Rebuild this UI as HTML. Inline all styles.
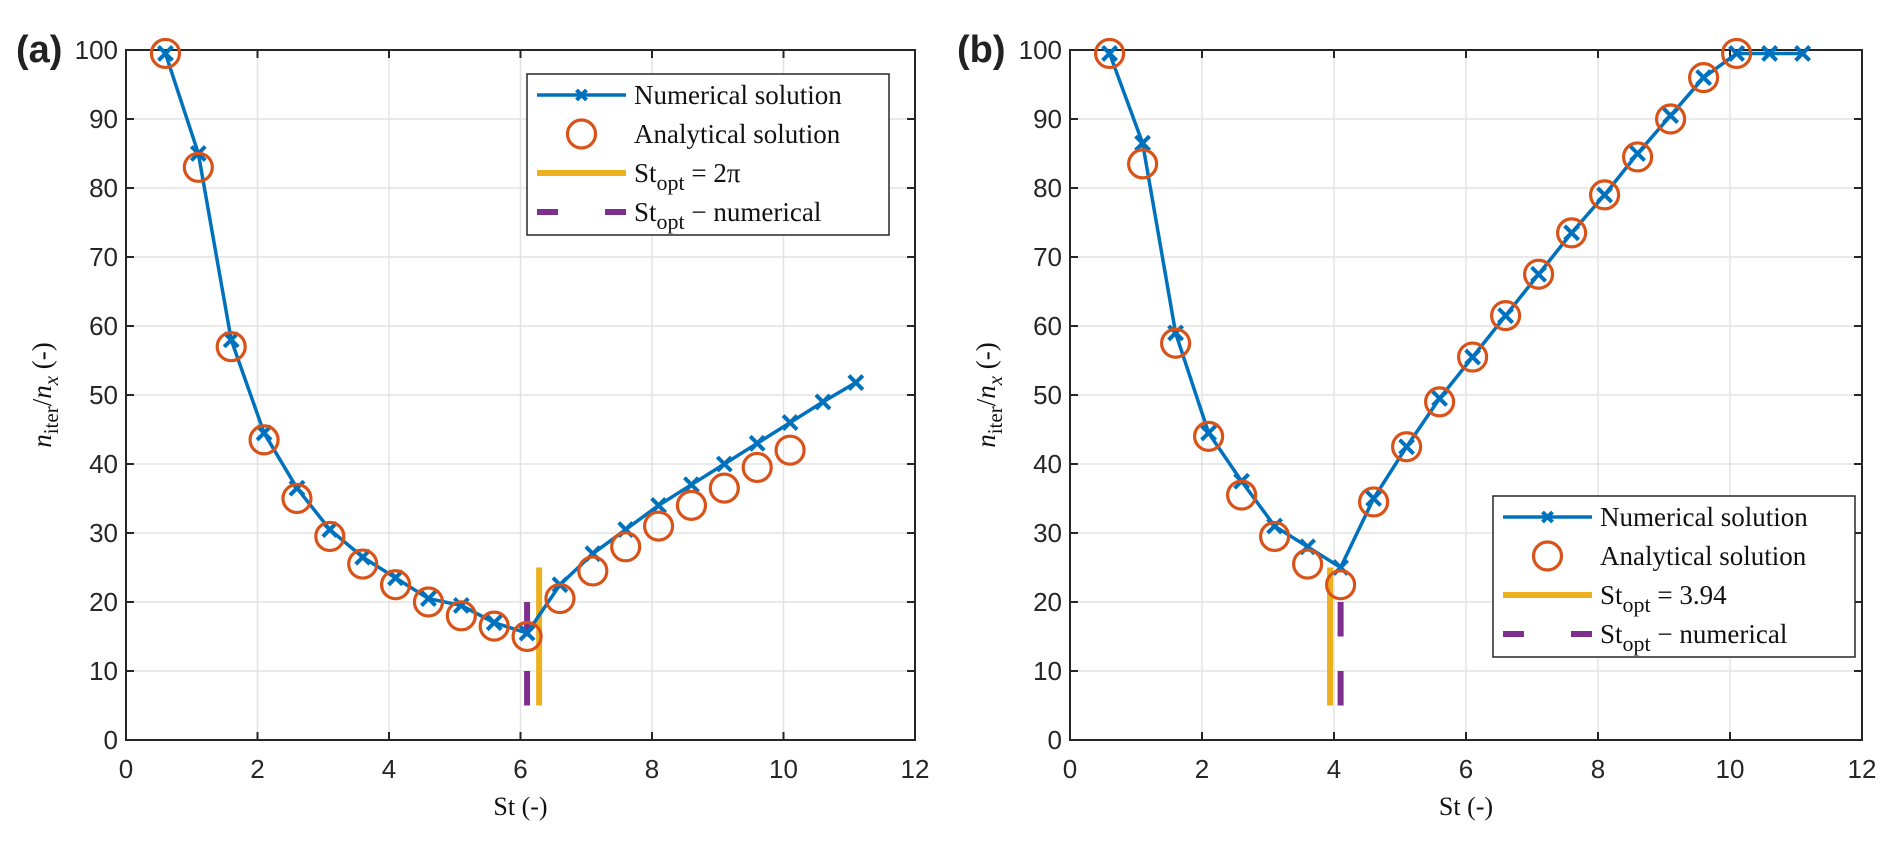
<!DOCTYPE html>
<html><head><meta charset="utf-8"><style>
body{margin:0;background:#fff;}
svg{display:block;}
.tick{font-family:"Liberation Sans",sans-serif;font-size:26px;fill:#262626;}
.ser{font-family:"Liberation Serif",serif;fill:#111;}
</style></head><body>
<svg id="chart" width="1892" height="844" viewBox="0 0 1892 844"></svg>
<script>
const stA = [0.6,1.1,1.6,2.1,2.6,3.1,3.6,4.1,4.6,5.1,5.6,6.1,6.6,7.1,7.6,8.1,8.6,9.1,9.6,10.1,10.6,11.1];
const numA = [99.5,85,58,44.5,36.5,30.5,26.5,23.5,20.5,19.5,17,15.5,22.5,27,30.5,34,37,40,43,46,49,51.8];
const stAnA = [0.6,1.1,1.6,2.1,2.6,3.1,3.6,4.1,4.6,5.1,5.6,6.1,6.6,7.1,7.6,8.1,8.6,9.1,9.6,10.1];
const anaA = [99.5,83,57,43.5,35,29.5,25.5,22.5,20,18,16.5,15,20.5,24.5,28,31,34,36.5,39.5,42];
const optA = [6.2832, 6.1];
const numB = [99.5,86.5,59,44.5,37.5,31,28,25,35,42.5,49.5,55.5,61.5,67.5,73.5,79,85,90.5,96,99.5,99.5,99.5];
const anaB = [99.5,83.5,57.5,44,35.5,29.5,25.5,22.5,34.5,42.5,49,55.5,61.5,67.5,73.5,79,84.5,90,96,99.5];
const optB = [3.94, 4.1];
const xTicks = [0,2,4,6,8,10,12];
const yTicks = [0,10,20,30,40,50,60,70,80,90,100];
const optRange = [5,25];

const NS="http://www.w3.org/2000/svg";
const svg=document.getElementById('chart');
function mk(tag,attrs,parent){const e=document.createElementNS(NS,tag);for(const k in attrs)e.setAttribute(k,attrs[k]);(parent||svg).appendChild(e);return e;}

function panel(p){
  const g=mk('g',{});
  
  
  const X=v=>p.x0+v/12*(p.x1-p.x0);
  const Y=v=>740-v/100*690;
  xTicks.forEach(t=>{const l=mk('line',{x1:X(t),x2:X(t),y1:50,y2:740,stroke:'#e3e3e3','stroke-width':1.5},g);});
  yTicks.forEach(t=>{const l=mk('line',{x1:p.x0,x2:p.x1,y1:Y(t),y2:Y(t),stroke:'#e3e3e3','stroke-width':1.5},g);});
  const box=mk('rect',{x:p.x0,y:50,width:p.x1-p.x0,height:690,fill:'none',stroke:'#262626','stroke-width':2},g);
  
  xTicks.forEach(t=>{
    mk('line',{x1:X(t),x2:X(t),y1:740,y2:732,stroke:'#262626','stroke-width':2},g);
    mk('line',{x1:X(t),x2:X(t),y1:50,y2:58,stroke:'#262626','stroke-width':2},g);
    const tx=mk('text',{x:X(t),y:778,'text-anchor':'middle',class:'tick'},g);tx.textContent=t;
    
  });
  yTicks.forEach(t=>{
    mk('line',{x1:p.x0,x2:p.x0+8,y1:Y(t),y2:Y(t),stroke:'#262626','stroke-width':2},g);
    mk('line',{x1:p.x1,x2:p.x1-8,y1:Y(t),y2:Y(t),stroke:'#262626','stroke-width':2},g);
    const tx=mk('text',{x:p.x0-8,y:Y(t)+9,'text-anchor':'end',class:'tick'},g);tx.textContent=t;
    
  });
  const yl=mk('line',{x1:X(p.opt[0]),x2:X(p.opt[0]),y1:Y(optRange[0]),y2:Y(optRange[1]),stroke:'#EDB120','stroke-width':6},g);
  
  const pl=mk('line',{x1:X(p.opt[1]),x2:X(p.opt[1]),y1:Y(optRange[0]),y2:Y(optRange[1]),stroke:'#7E2F8E','stroke-width':6,'stroke-dasharray':'34.5 34.5'},g);
  
  const pts=stA.map((s,i)=>X(s)+','+Y(p.num[i])).join(' ');
  const nl=mk('polyline',{points:pts,fill:'none',stroke:'#0072BD','stroke-width':3.5},g);
  
  stA.forEach((s,i)=>{
    const cx=X(s),cy=Y(p.num[i]),d=7;
    const m=mk('path',{d:`M${cx-d},${cy-d}L${cx+d},${cy+d}M${cx-d},${cy+d}L${cx+d},${cy-d}`,stroke:'#0072BD','stroke-width':4},g);
    
  });
  stAnA.forEach((s,i)=>{
    const c=mk('circle',{cx:X(s),cy:Y(p.ana[i]),r:14,fill:'none',stroke:'#D95319','stroke-width':3.2},g);
    
  });
  const L=p.leg;
  const lg=mk('g',{},g);
  mk('rect',{x:L.x,y:L.y,width:362,height:161,fill:'#fff',stroke:'#262626','stroke-width':1.5},lg);
  const rows=[21,60,99,138].map(r=>L.y+r);
  const lx=L.x+10, rx=L.x+99;
  mk('line',{x1:lx,x2:rx,y1:rows[0],y2:rows[0],stroke:'#0072BD','stroke-width':3.5},lg);
  const mx=(lx+rx)/2;
  mk('path',{d:`M${mx-5},${rows[0]-5}L${mx+5},${rows[0]+5}M${mx-5},${rows[0]+5}L${mx+5},${rows[0]-5}`,stroke:'#0072BD','stroke-width':4},lg);
  mk('circle',{cx:mx,cy:rows[1],r:14,fill:'none',stroke:'#D95319','stroke-width':3.2},lg);
  mk('line',{x1:lx,x2:rx,y1:rows[2],y2:rows[2],stroke:'#EDB120','stroke-width':6},lg);
  mk('line',{x1:lx,x2:rx,y1:rows[3],y2:rows[3],stroke:'#7E2F8E','stroke-width':6,'stroke-dasharray':'21 47'},lg);
  const tx=L.x+107;
  const labels=[
    ['legend-entry-numerical','Numerical solution'],
    ['legend-entry-analytical','Analytical solution']];
  labels.forEach((lb,i)=>{const t=mk('text',{x:tx,y:rows[i]+9,class:'ser','font-size':27},lg);t.textContent=lb[1];});
  const t3=mk('text',{x:tx,y:rows[2]+9,class:'ser','font-size':27},lg);
  
  t3.innerHTML='St<tspan font-size="22" dy="8">opt</tspan><tspan dy="-8"> = '+p.optLabel+'</tspan>';
  const t4=mk('text',{x:tx,y:rows[3]+9,class:'ser','font-size':27},lg);
  
  t4.innerHTML='St<tspan font-size="22" dy="8">opt</tspan><tspan dy="-8"> − numerical</tspan>';
  const xl=mk('text',{x:(p.x0+p.x1)/2,y:815,'text-anchor':'middle',class:'ser','font-size':26},g);
  xl.textContent='St (-)';
  const yt=mk('text',{x:0,y:0,'text-anchor':'middle',class:'ser','font-size':27,transform:`translate(${p.x0-75},395) rotate(-90)`},g);
  
  yt.innerHTML='<tspan font-style="italic">n</tspan><tspan font-size="21" dy="7">iter</tspan><tspan dy="-7">/</tspan><tspan font-style="italic">n</tspan><tspan font-size="21" font-style="italic" dy="7">x</tspan><tspan dy="-7"> (-)</tspan>';
  const pt=mk('text',{x:p.lblx,y:62,'font-family':'Liberation Sans, sans-serif','font-weight':'bold','font-size':38,fill:'#222'},g);
  pt.textContent=p.lbl;
}
panel({name:'panel-a',x0:126,x1:915,num:numA,ana:anaA,opt:optA,optLabel:'2π',leg:{x:527,y:74},lbl:'(a)',lblx:16});
panel({name:'panel-b',x0:1070,x1:1862,num:numB,ana:anaB,opt:optB,optLabel:'3.94',leg:{x:1493,y:496},lbl:'(b)',lblx:957});
</script>
</body></html>
